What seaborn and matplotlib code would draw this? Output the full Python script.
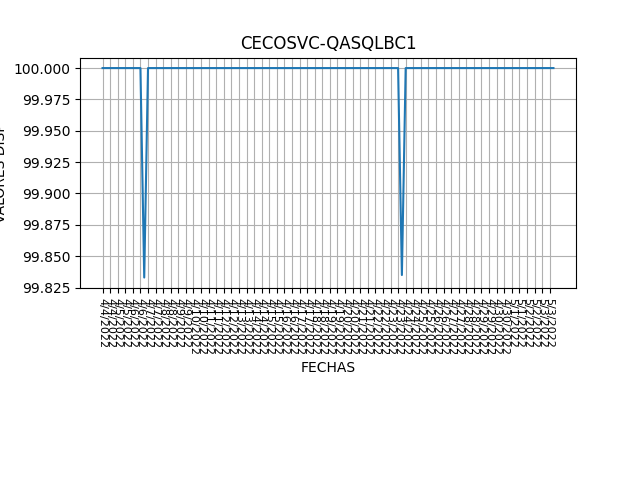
import numpy as np
import pandas as pd
import matplotlib
matplotlib.use('Agg')
import matplotlib.pyplot as plt
import seaborn as sns

# days covered by the report (4 readings per day)
dias = ['4/4/2022', '4/5/2022', '4/6/2022', '4/7/2022', '4/8/2022', '4/9/2022',
        '4/10/2022', '4/11/2022', '4/12/2022', '4/13/2022', '4/14/2022', '4/15/2022',
        '4/16/2022', '4/17/2022', '4/18/2022', '4/19/2022', '4/20/2022', '4/21/2022',
        '4/22/2022', '4/23/2022', '4/24/2022', '4/25/2022', '4/26/2022', '4/27/2022',
        '4/28/2022', '4/29/2022', '4/30/2022', '5/1/2022', '5/2/2022', '5/3/2022']
lecturas_por_dia = 4

# availability readings
disp = [100.0] * 11 + [99.833] + [100.0] * 67 + [99.835] + [100.0] * 40

df = pd.DataFrame({
    'idx': np.arange(len(disp)),
    'fecha': [dias[i // lecturas_por_dia] for i in range(len(disp))],
    'disp': disp,
})

fig, ax = plt.subplots(figsize=(6.4, 4.8), dpi=100)
sns.lineplot(data=df, x='idx', y='disp', ax=ax, color='#1f77b4')

ticks = df['idx'][::2]
ax.set_xticks(ticks)
ax.set_xticklabels(df['fecha'][::2], rotation=270, fontsize=8)
ax.grid(True)
ax.set_title('CECOSVC-QASQLBC1')
ax.set_xlabel('FECHAS')
ax.set_ylabel('VALORES DISP')

plt.subplots_adjust(bottom=0.4)
plt.savefig('out.png', dpi=100)
plt.close()
